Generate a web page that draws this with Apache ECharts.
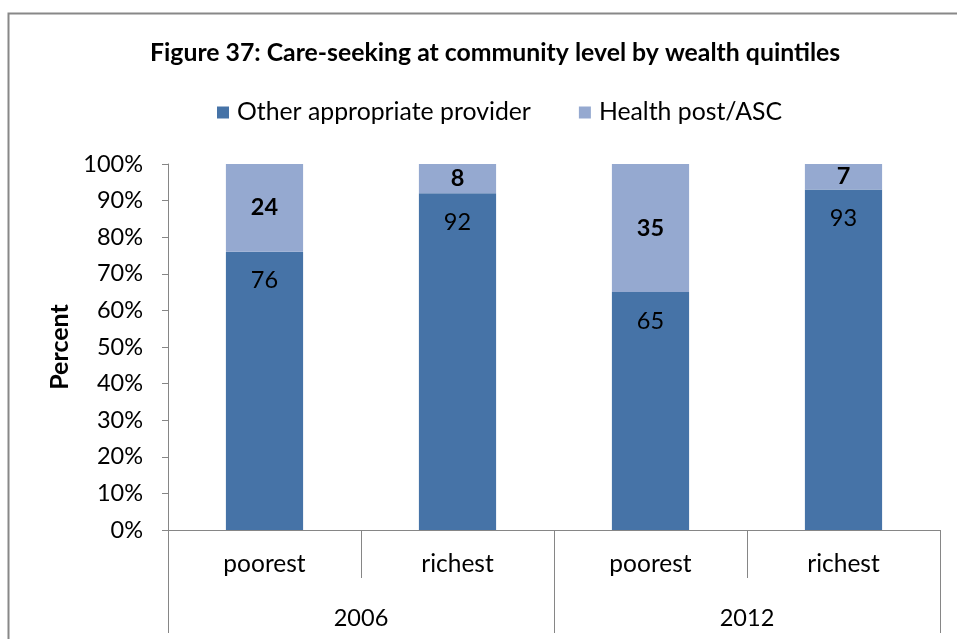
<!DOCTYPE html>
<html>
<head>
<meta charset="utf-8">
<script src="https://cdn.jsdelivr.net/npm/echarts@6/dist/echarts.min.js"></script>
<style>
  html, body { margin: 0; padding: 0; background: #fff; }
  #chart { width: 957px; height: 639px; }
</style>
</head>
<body>
<div id="chart"></div>
<script>
const quintiles = ['poorest', 'richest', 'poorest', 'richest']
const years = ['2006', '2012']
const otherProvider = [76, 92, 65, 93]
const healthPost = [24, 8, 35, 7]

const FONT = 'Lato'
const chart = echarts.init(document.getElementById('chart'))

const option = {
  backgroundColor: '#fff',
  textStyle: { fontFamily: FONT },
  title: {
    text: 'Figure 37: Care-seeking at community level by wealth quintiles',
    left: 145,
    top: 36,
    textStyle: { fontFamily: FONT, fontSize: 24.8, fontWeight: 'bold', color: '#000' }
  },
  legend: {
    top: 95,
    left: 212,
    itemWidth: 12,
    itemHeight: 12,
    itemGap: 48,
    icon: 'rect',
    textStyle: { fontFamily: FONT, fontSize: 24.8, color: '#000', padding: [0, 0, 0, 3] },
    data: ['Other appropriate provider', 'Health post/ASC']
  },
  grid: { left: 168, right: 17, top: 164, bottom: 109 },
  xAxis: [
    {
      type: 'category',
      data: quintiles,
      axisLine: { lineStyle: { color: '#868686', width: 1 } },
      axisTick: { show: true, interval: 0, length: 48, lineStyle: { color: '#868686' } },
      axisLabel: { margin: 22, fontSize: 24.5, color: '#000', fontFamily: FONT }
    },
    {
      type: 'category',
      data: years,
      position: 'bottom',
      offset: 48,
      axisLine: { show: false },
      axisTick: { show: true, interval: 0, length: 55, lineStyle: { color: '#868686' } },
      axisLabel: { margin: 28, fontSize: 23.5, color: '#000', fontFamily: FONT }
    }
  ],
  yAxis: {
    type: 'value',
    min: 0,
    max: 100,
    interval: 10,
    name: 'Percent',
    nameLocation: 'middle',
    nameGap: 94,
    nameTextStyle: { fontFamily: FONT, fontSize: 25, fontWeight: 'bold', color: '#000' },
    axisLine: { show: true, lineStyle: { color: '#868686' } },
    axisTick: { show: true, length: 6, lineStyle: { color: '#868686' } },
    splitLine: { show: false },
    axisLabel: { formatter: '{value}%', fontSize: 23.5, color: '#000', margin: 25, fontFamily: FONT }
  },
  series: [
    {
      name: 'Other appropriate provider',
      type: 'bar',
      stack: 'total',
      xAxisIndex: 0,
      barWidth: '40%',
      data: otherProvider,
      itemStyle: { color: '#4673A7' },
      label: {
        show: true,
        position: 'insideTop',
        distance: 17,
        fontSize: 23.5,
        color: '#000',
        fontFamily: FONT
      }
    },
    {
      name: 'Health post/ASC',
      type: 'bar',
      stack: 'total',
      xAxisIndex: 0,
      barWidth: '40%',
      data: healthPost,
      itemStyle: { color: '#95A9D0' },
      label: {
        show: true,
        position: 'inside',
        fontSize: 23.5,
        fontWeight: 'bold',
        color: '#000',
        fontFamily: FONT
      }
    }
  ],
  graphic: [
    {
      type: 'polyline',
      shape: { points: [[8.5, 639], [8.5, 13.5], [957, 13.5]] },
      style: { stroke: '#888', lineWidth: 2, fill: null },
      silent: true
    }
  ]
}

chart.setOption(option)
</script>
</body>
</html>
